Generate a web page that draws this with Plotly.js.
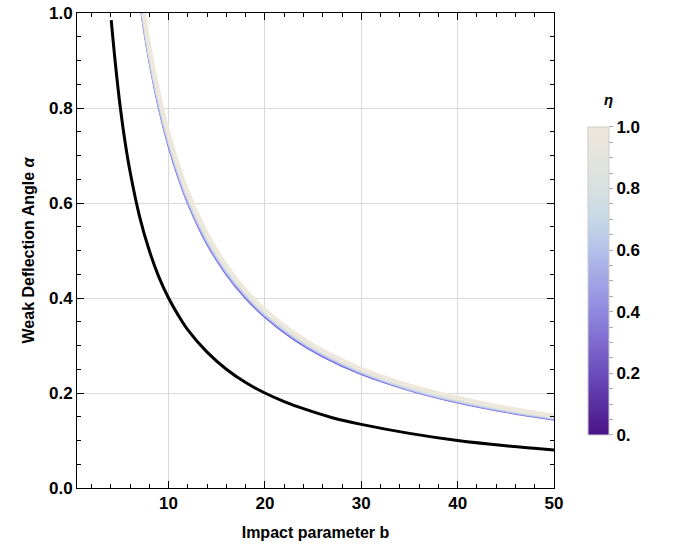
<!DOCTYPE html>
<html>
<head>
<meta charset="utf-8">
<script src="https://cdn.plot.ly/plotly-3.0.1.min.js"></script>
<style>html,body{margin:0;padding:0;background:#fff;}#plot{width:675px;height:552px;}</style>
</head>
<body>
<div id="plot"></div>
<script>
// Reference curve (black)
const bBlack = [4.05, 4.5, 5, 5.5, 6, 7, 8, 9, 10, 11, 12, 14, 16, 18, 20, 22, 24, 27, 30, 35, 40, 45, 50];
const alphaBlack = [0.985, 0.89, 0.80, 0.727, 0.667, 0.571, 0.50, 0.444, 0.40, 0.364, 0.333, 0.286, 0.25, 0.222, 0.20, 0.182, 0.167, 0.148, 0.134, 0.115, 0.10, 0.089, 0.08];

// eta-family curves
const bEta = [7.0, 7.5, 8, 9, 10, 11, 12, 14, 16, 18, 20, 23, 26, 30, 35, 40, 45, 50];
const etaValues = [0, 0.25, 0.5, 0.75, 1.0];
const alphaEta0   = [1.029, 0.960, 0.900, 0.800, 0.720, 0.655, 0.600, 0.514, 0.450, 0.400, 0.360, 0.313, 0.277, 0.240, 0.206, 0.180, 0.160, 0.144];
const alphaEta025 = [1.036, 0.967, 0.906, 0.806, 0.726, 0.661, 0.605, 0.519, 0.454, 0.404, 0.364, 0.317, 0.280, 0.243, 0.208, 0.182, 0.162, 0.146];
const alphaEta05  = [1.046, 0.976, 0.914, 0.814, 0.733, 0.667, 0.611, 0.524, 0.459, 0.408, 0.367, 0.320, 0.283, 0.245, 0.210, 0.184, 0.164, 0.148];
const alphaEta075 = [1.057, 0.985, 0.922, 0.822, 0.740, 0.673, 0.617, 0.529, 0.463, 0.412, 0.371, 0.323, 0.286, 0.248, 0.213, 0.187, 0.166, 0.150];
const alphaEta1   = [1.070, 0.995, 0.930, 0.830, 0.747, 0.680, 0.623, 0.535, 0.468, 0.416, 0.375, 0.327, 0.290, 0.251, 0.216, 0.190, 0.169, 0.152];
const alphaEtaSets = [alphaEta0, alphaEta025, alphaEta05, alphaEta075, alphaEta1];

const etaColorscale = [
  [0.0, '#4a1486'], [0.2, '#6a4cbb'], [0.4, '#9188e0'],
  [0.6, '#b3c1ea'], [0.7, '#c5d9e6'], [0.8, '#d9e0e0'], [1.0, '#eee8dc']
];
const curveColors = ['#6a5ee6', '#a9a4ea', '#c2d4ea', '#dde2df', '#eee8dc'];
const curveWidths = [2.2, 3, 3.5, 3.8, 4];

const cbTickVals = [], cbTickText = [];
for (let i = 0; i <= 20; i++) {
  const v = i / 20;
  cbTickVals.push(v);
  if (i % 4 === 0) cbTickText.push('<b>' + (i === 0 ? '0.' : v.toFixed(1)) + '</b>'); else cbTickText.push('');
}

const traces = [];
etaValues.forEach((eta, i) => {
  traces.push({
    x: bEta, y: alphaEtaSets[i], type: 'scatter', mode: 'lines',
    line: {color: curveColors[i], width: curveWidths[i], shape: 'spline'},
    hoverinfo: 'skip', showlegend: false
  });
});
traces.push({
  x: bBlack, y: alphaBlack, type: 'scatter', mode: 'lines',
  line: {color: '#000000', width: 3, shape: 'spline'},
  showlegend: false
});
// colorbar carrier
traces.push({
  x: [-10], y: [-10], type: 'scatter', mode: 'markers',
  marker: {
    color: [0], cmin: 0, cmax: 1, colorscale: etaColorscale, showscale: true, size: 1,
    colorbar: {
      x: 1.071, xanchor: 'left', xpad: 0, ypad: 0,
      y: 0.436, yanchor: 'middle', len: 308, lenmode: 'pixels',
      thickness: 21, outlinewidth: 1, outlinecolor: '#cccccc',
      tickmode: 'array', tickvals: cbTickVals, ticktext: cbTickText,
      ticks: 'outside', ticklen: 4, tickcolor: '#aaaaaa', tickwidth: 1,
      tickfont: {family: 'Liberation Sans, Arial, sans-serif', size: 17, color: '#000'},
      title: {text: ''}
    }
  },
  showlegend: false, hoverinfo: 'skip'
});

const fontFam = 'Liberation Sans, Arial, sans-serif';
const layout = {
  width: 675, height: 552,
  margin: {l: 77, r: 121, t: 13, b: 64},
  paper_bgcolor: '#fff', plot_bgcolor: '#fff',
  font: {family: fontFam, color: '#000'},
  xaxis: {
    range: [0.5, 50], tickvals: [10, 20, 30, 40, 50], ticktext: ['<b>10</b>', '<b>20</b>', '<b>30</b>', '<b>40</b>', '<b>50</b>'],
    ticks: 'inside', ticklen: 7, tickcolor: '#000', tickwidth: 1,
    minor: {dtick: 2, tick0: 0, ticks: 'inside', ticklen: 4, tickcolor: '#000', showgrid: false},
    showgrid: true, gridcolor: '#d9d9d9', gridwidth: 1,
    showline: true, linecolor: '#000', linewidth: 1, mirror: 'ticks',
    zeroline: false, tickfont: {size: 17, family: fontFam},
    title: {text: '<b>Impact parameter b</b>', font: {size: 16, family: fontFam}, standoff: 14}
  },
  yaxis: {
    range: [0, 1], tickvals: [0, 0.2, 0.4, 0.6, 0.8, 1.0], ticktext: ['<b>0.0</b>', '<b>0.2</b>', '<b>0.4</b>', '<b>0.6</b>', '<b>0.8</b>', '<b>1.0</b>'],
    ticks: 'inside', ticklen: 7, tickcolor: '#000', tickwidth: 1,
    minor: {dtick: 0.05, tick0: 0, ticks: 'inside', ticklen: 4, tickcolor: '#000', showgrid: false},
    showgrid: true, gridcolor: '#d9d9d9', gridwidth: 1,
    showline: true, linecolor: '#000', linewidth: 1, mirror: 'ticks',
    zeroline: false, tickfont: {size: 17, family: fontFam},
    title: {text: '<b>Weak Deflection Angle <i>α</i></b>', font: {size: 16, family: fontFam}, standoff: 10}
  },
  annotations: [{
    xref: 'paper', yref: 'paper', x: (608 - 77) / 477, y: (488.3 - 100) / 475,
    text: '<b><i>η</i></b>', showarrow: false, font: {size: 15, family: fontFam},
    xanchor: 'center', yanchor: 'middle'
  }]
};

Plotly.newPlot('plot', traces, layout, {displayModeBar: false, staticPlot: true});
</script>
</body>
</html>
